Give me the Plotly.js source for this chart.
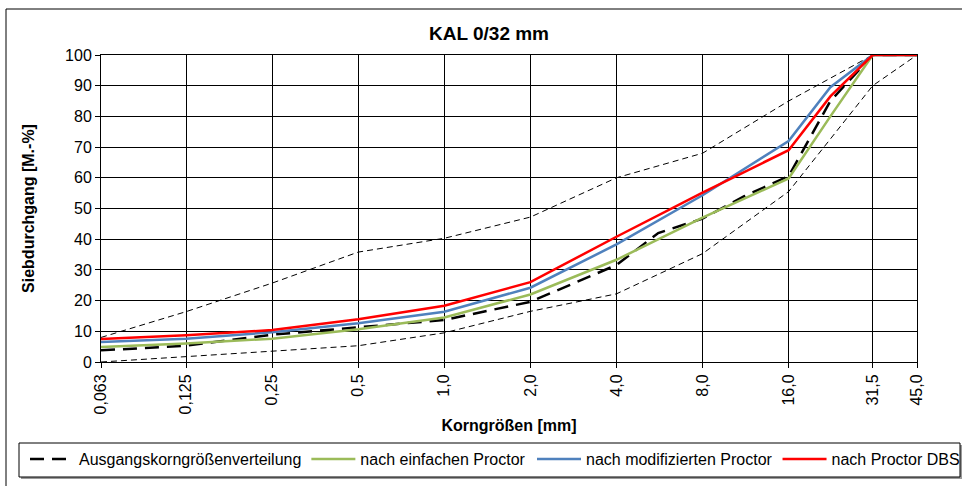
<!DOCTYPE html>
<html><head><meta charset="utf-8">
<script src="https://cdn.plot.ly/plotly-3.0.1.min.js"></script>
<style>html,body{margin:0;padding:0;background:#fff}</style>
</head><body><div id="chart" style="width:962px;height:486px"></div>
<script>
// Sieve sizes (mm)
const sieveMain  = [0.063, 0.125, 0.25, 0.5, 1, 2, 4, 8, 16, 22.4, 31.5, 45];
const sieveBlack = [0.063, 0.125, 0.25, 0.5, 1, 2, 4, 5.6, 8, 11.2, 16, 22.4, 31.5, 45];
const sieveLimit = [0.063, 0.125, 0.25, 0.5, 1, 2, 4, 8, 16, 31.5, 45];
// Passing (M.-%)
const ausgang     = [3.8, 5.3, 8.9, 11.2, 13.7, 19.6, 31.6, 42.0, 46.7, 54.0, 60.5, 85.0, 100, 100];
const einfach     = [4.9, 6.0, 7.6, 10.7, 14.5, 22.0, 33.3, 47.0, 59.8, 80.0, 100, 100];
const modifiziert = [6.5, 7.6, 9.7, 12.6, 16.4, 24.2, 38.3, 54.3, 72.0, 89.5, 100, 100];
const dbs         = [7.5, 8.7, 10.4, 13.9, 18.3, 26.0, 40.8, 55.2, 69.0, 86.5, 100, 100];
const upperLimit  = [8.0, 16.4, 25.7, 35.8, 40.3, 47.2, 60.0, 68.0, 85.0, 100, 100];
const lowerLimit  = [0.0, 1.8, 3.5, 5.3, 9.5, 16.5, 22.2, 35.3, 55.5, 90.0, 100];
// Tick labels
const tickVals = [0.063, 0.125, 0.25, 0.5, 1, 2, 4, 8, 16, 31.5, 45];
const tickText = ["0,063", "0,125", "0,25", "0,5", "1,0", "2,0", "4,0", "8,0", "16,0", "31,5", "45,0"];
const names = ["Ausgangskorngrößenverteilung", "nach einfachen Proctor", "nach modifizierten Proctor", "nach Proctor DBS"];

const FONT = "Liberation Sans, Arial, sans-serif";
const L = 101, R = 917, T = 55, B = 362;
const px = x => (x - L) / (R - L);
const py = y => (B - y) / (B - T);

const traces = [
  {x: sieveLimit, y: upperLimit, mode: 'lines', showlegend: false, hoverinfo: 'skip',
   line: {color: '#000', width: 1, dash: '6px,4px'}},
  {x: sieveLimit, y: lowerLimit, mode: 'lines', showlegend: false, hoverinfo: 'skip',
   line: {color: '#000', width: 1, dash: '6px,4px'}},
  {x: sieveBlack, y: ausgang, mode: 'lines', name: names[0], legend: 'legend',
   line: {color: '#000', width: 2.5, dash: '14px,8px'}},
  {x: sieveMain, y: einfach, mode: 'lines', name: names[1], legend: 'legend',
   line: {color: '#9BBB59', width: 2.5}},
  {x: sieveMain, y: modifiziert, mode: 'lines', name: names[2], legend: 'legend2',
   line: {color: '#4F81BD', width: 2.5}},
  {x: sieveMain, y: dbs, mode: 'lines', name: names[3], legend: 'legend2',
   line: {color: '#FF0000', width: 2.5}}
];

const legendBase = {
  orientation: 'h', xref: 'paper', yref: 'paper', xanchor: 'left', yanchor: 'top',
  y: py(442), bgcolor: 'rgba(0,0,0,0)', borderwidth: 0, itemwidth: 44,
  font: {family: FONT, size: 16, color: '#000'}
};

const layout = {
  width: 962, height: 486,
  margin: {l: L, r: 962 - R, t: T, b: 486 - B, pad: 0, autoexpand: false},
  paper_bgcolor: '#fff', plot_bgcolor: '#fff',
  font: {family: FONT, color: '#000', size: 16},
  title: {text: 'KAL 0/32 mm', font: {family: FONT, size: 19, weight: 'bold', color: '#000'},
          xref: 'paper', x: px(489), xanchor: 'center', yref: 'container', y: 1 - 33/486, yanchor: 'middle'},
  xaxis: {
    type: 'log', range: [Math.log10(0.063), Math.log10(45)],
    tickmode: 'array', tickvals: tickVals, ticktext: tickText, tickangle: -90,
    tickfont: {family: FONT, size: 16, color: '#000'},
    ticks: 'outside', ticklen: 5, tickcolor: '#000',
    showgrid: true, gridcolor: '#000', gridwidth: 1,
    showline: true, linecolor: '#000', linewidth: 1, mirror: true,
    zeroline: false,
    title: {text: 'Korngrößen [mm]', font: {family: FONT, size: 16, weight: 'bold', color: '#000'}, standoff: 6}
  },
  yaxis: {
    range: [0, 100], tickmode: 'array', tickvals: [0,10,20,30,40,50,60,70,80,90,100],
    tickfont: {family: FONT, size: 16, color: '#000'},
    ticks: 'outside', ticklen: 5, tickcolor: '#000',
    showgrid: true, gridcolor: '#000', gridwidth: 1,
    showline: true, linecolor: '#000', linewidth: 1, mirror: true,
    zeroline: false,
    title: {text: 'Siebdurchgang [M.-%]', font: {family: FONT, size: 16, weight: 'bold', color: '#000'}, standoff: 26}
  },
  legend: Object.assign({}, legendBase, {x: px(25)}),
  legend2: Object.assign({}, legendBase, {x: px(532)}),
  shapes: [
    {type: 'rect', xref: 'paper', yref: 'paper', x0: px(6), x1: px(975), y0: py(500), y1: py(9),
     line: {color: '#000', width: 1}, fillcolor: 'rgba(0,0,0,0)', layer: 'below'},
    {type: 'rect', xref: 'paper', yref: 'paper', x0: px(21), x1: px(962), y0: py(479), y1: py(445),
     line: {width: 0}, fillcolor: '#9a9a9a', layer: 'below'},
    {type: 'rect', xref: 'paper', yref: 'paper', x0: px(19), x1: px(960), y0: py(477), y1: py(443),
     line: {color: '#000', width: 1}, fillcolor: '#fff', layer: 'below'}
  ]
};

Plotly.newPlot('chart', traces, layout, {displayModeBar: false, staticPlot: true});
</script>
</body></html>
